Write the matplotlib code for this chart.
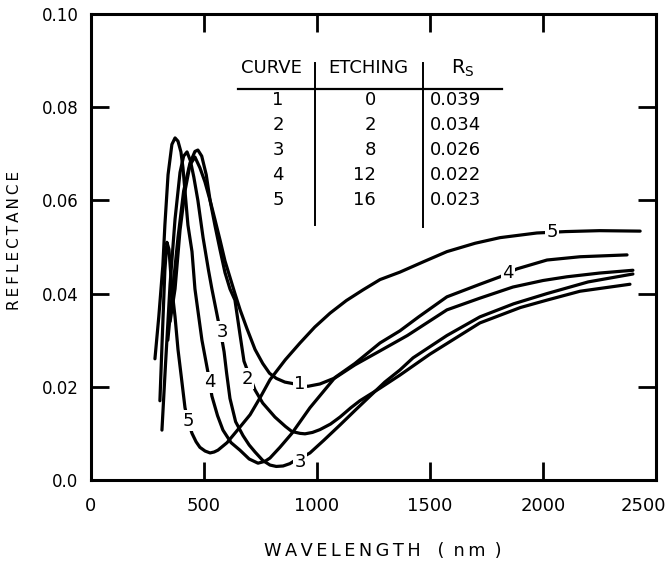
import matplotlib.pyplot as plt
import matplotlib.transforms as mtransforms

# reflectance curves (wavelength in nm)
wl1 = [350, 372, 394, 416, 438, 460, 482, 504, 527, 549, 571, 593, 615, 637,
       660, 690, 726, 760, 790, 820, 858, 925, 960, 1013, 1080, 1168, 1279,
       1400, 1575, 1720, 1867, 2000, 2106, 2250, 2398]
r1 = [0.034, 0.041, 0.0536, 0.062, 0.0676, 0.0693, 0.067, 0.064, 0.060, 0.0558,
      0.0515, 0.047, 0.0435, 0.040, 0.0365, 0.0325, 0.028, 0.025, 0.0229, 0.0218,
      0.021, 0.0204, 0.0201, 0.0206, 0.0219, 0.0247, 0.0277, 0.031, 0.0365,
      0.039, 0.0414, 0.0428, 0.0436, 0.0444, 0.045]

wl2 = [340, 360, 385, 410, 438, 460, 473, 490, 510, 527, 549, 571, 593, 615,
       637, 660, 677, 700, 726, 760, 814, 860, 889, 925, 947, 980, 1013, 1060,
       1102, 1150, 1190, 1279, 1367, 1500, 1721, 1900, 2018, 2164, 2385]
r2 = [0.030, 0.040, 0.052, 0.062, 0.068, 0.0705, 0.0708, 0.0695, 0.0655, 0.060,
      0.0545, 0.0494, 0.0445, 0.041, 0.0386, 0.031, 0.0255, 0.0225, 0.0193,
      0.0165, 0.0135, 0.0115, 0.0104, 0.010, 0.0099, 0.0102, 0.0108, 0.012,
      0.0135, 0.0155, 0.017, 0.0197, 0.0225, 0.027, 0.0337, 0.037, 0.0386,
      0.0405, 0.042]

wl3 = [314, 330, 350, 372, 394, 410, 425, 440, 455, 473, 496, 520, 535, 558,
       580, 589, 600, 615, 640, 673, 700, 726, 760, 792, 820, 850, 880, 903,
       940, 969, 1030, 1102, 1170, 1235, 1300, 1367, 1425, 1575, 1721, 1870,
       2018, 2200, 2398]
r3 = [0.0107, 0.025, 0.042, 0.056, 0.066, 0.0695, 0.0704, 0.0685, 0.065, 0.060,
      0.052, 0.045, 0.041, 0.0354, 0.030, 0.0275, 0.023, 0.0175, 0.0125, 0.0095,
      0.0075, 0.006, 0.0042, 0.0032, 0.0029, 0.003, 0.0035, 0.0042, 0.005,
      0.0058, 0.0085, 0.0118, 0.015, 0.018, 0.021, 0.0236, 0.0262, 0.031,
      0.035, 0.0378, 0.040, 0.0425, 0.0442]

wl4 = [283, 300, 318, 327, 341, 358, 372, 385, 398, 407, 416, 429, 447, 460,
       491, 518, 535, 560, 584, 620, 659, 700, 739, 770, 792, 836, 889, 969,
       1080, 1168, 1279, 1367, 1450, 1575, 1721, 1810, 1885, 2018, 2164, 2372]
r4 = [0.026, 0.035, 0.046, 0.0547, 0.0655, 0.072, 0.0734, 0.0727, 0.0704, 0.067,
      0.062, 0.0547, 0.049, 0.041, 0.030, 0.023, 0.018, 0.0138, 0.0107, 0.008,
      0.0064, 0.0045, 0.0036, 0.004, 0.0047, 0.007, 0.010, 0.0155, 0.022, 0.025,
      0.0294, 0.032, 0.035, 0.0393, 0.042, 0.0436, 0.0453, 0.0472, 0.0479, 0.0483]

wl5 = [305, 315, 327, 336, 345, 358, 372, 385, 400, 416, 429, 447, 465, 482,
       505, 527, 545, 562, 602, 650, 704, 750, 792, 860, 925, 990, 1058, 1130,
       1204, 1279, 1367, 1470, 1575, 1700, 1810, 1973, 2100, 2250, 2430]
r5 = [0.017, 0.030, 0.045, 0.051, 0.0495, 0.041, 0.035, 0.028, 0.022, 0.0155,
      0.0127, 0.010, 0.0082, 0.007, 0.0062, 0.0058, 0.006, 0.0064, 0.008, 0.0108,
      0.014, 0.0178, 0.0215, 0.0258, 0.0294, 0.0328, 0.0358, 0.0385, 0.0408,
      0.043, 0.0446, 0.0468, 0.049, 0.0508, 0.052, 0.053, 0.0533, 0.0535, 0.0534]

# table
curve_ids = ['1', '2', '3', '4', '5']
etching = ['0', '2', '8', '12', '16']
rs = ['0.039', '0.034', '0.026', '0.022', '0.023']

# curve number labels on the lines
lab_text = ['1', '2', '3', '3', '4', '4', '5', '5']
lab_x = [925, 690, 580, 925, 527, 1845, 429, 2040]
lab_y = [0.0206, 0.0217, 0.0318, 0.0039, 0.021, 0.0444, 0.0127, 0.0532]

xticks = [0, 500, 1000, 1500, 2000, 2500]
xticklabels = ['0', '500', '1000', '1500', '2000', '2500']
yticks = [0.0, 0.02, 0.04, 0.06, 0.08, 0.10]
yticklabels = ['0.0', '0.02', '0.04', '0.06', '0.08', '0.10']

plt.rcParams['font.family'] = ['DejaVu Sans']

fig = plt.figure(figsize=(6.69, 5.68), dpi=100)
ax = fig.add_axes([0.136, 0.155, 0.8445, 0.8204])

for wl, r in [(wl1, r1), (wl2, r2), (wl3, r3), (wl4, r4), (wl5, r5)]:
    ax.plot(wl, r, color='black', lw=2.3, solid_capstyle='round',
            solid_joinstyle='round')

for t, x, y in zip(lab_text, lab_x, lab_y):
    ax.text(x, y, t, fontsize=13, ha='center', va='center', zorder=5,
            bbox=dict(facecolor='white', edgecolor='none', pad=1.0))

ax.set_xlim(0, 2500)
ax.set_ylim(0, 0.10)
ax.set_xticks(xticks)
ax.set_xticklabels(xticklabels, fontsize=13)
ax.set_yticks(yticks)
ax.set_yticklabels(yticklabels, fontsize=12)
ax.tick_params(direction='in', length=13, width=2, top=True, right=True)
ax.tick_params(axis='x', pad=12)
ax.tick_params(axis='y', pad=9)
for s in ax.spines.values():
    s.set_linewidth(2.2)

lbl = ax.get_xticklabels()[-1]
lbl.set_transform(lbl.get_transform() +
                  mtransforms.ScaledTranslation(-0.13, 0, fig.dpi_scale_trans))

# table in the upper part of the plot
tr = ax.transAxes
ax.text(0.320, 0.884, 'CURVE', transform=tr, fontsize=13, ha='center', va='center')
ax.text(0.490, 0.884, 'ETCHING', transform=tr, fontsize=13, ha='center', va='center')
ax.text(0.658, 0.884, r'R$_\mathregular{S}$', transform=tr, fontsize=14,
        ha='center', va='center')
ax.plot([0.260, 0.727], [0.839, 0.839], transform=tr, color='black', lw=1.6)
ax.plot([0.396, 0.396], [0.895, 0.547], transform=tr, color='black', lw=1.4)
ax.plot([0.588, 0.588], [0.895, 0.543], transform=tr, color='black', lw=1.4)
rows_y = [0.815, 0.762, 0.708, 0.655, 0.601]
for i in range(len(curve_ids)):
    ax.text(0.331, rows_y[i], curve_ids[i], transform=tr, fontsize=13,
            ha='center', va='center')
    ax.text(0.504, rows_y[i], etching[i], transform=tr, fontsize=13,
            ha='right', va='center')
    ax.text(0.600, rows_y[i], rs[i], transform=tr, fontsize=13,
            ha='left', va='center')

fig.text(383 / 669, 1 - 551 / 568,
         'W\u2009A\u2009V\u2009E\u2009L\u2009E\u2009N\u2009G\u2009T\u2009H   (\u2009 n\u2009m \u2009)',
         fontsize=12.8, ha='center', va='center')
fig.text(15 / 669, 1 - 240 / 568,
         'R\u2009E\u2009F\u2009L\u2009E\u2009C\u2009T\u2009A\u2009N\u2009C\u2009E',
         fontsize=11, rotation=90, ha='center', va='center')

fig.savefig('out.png', dpi=100)
